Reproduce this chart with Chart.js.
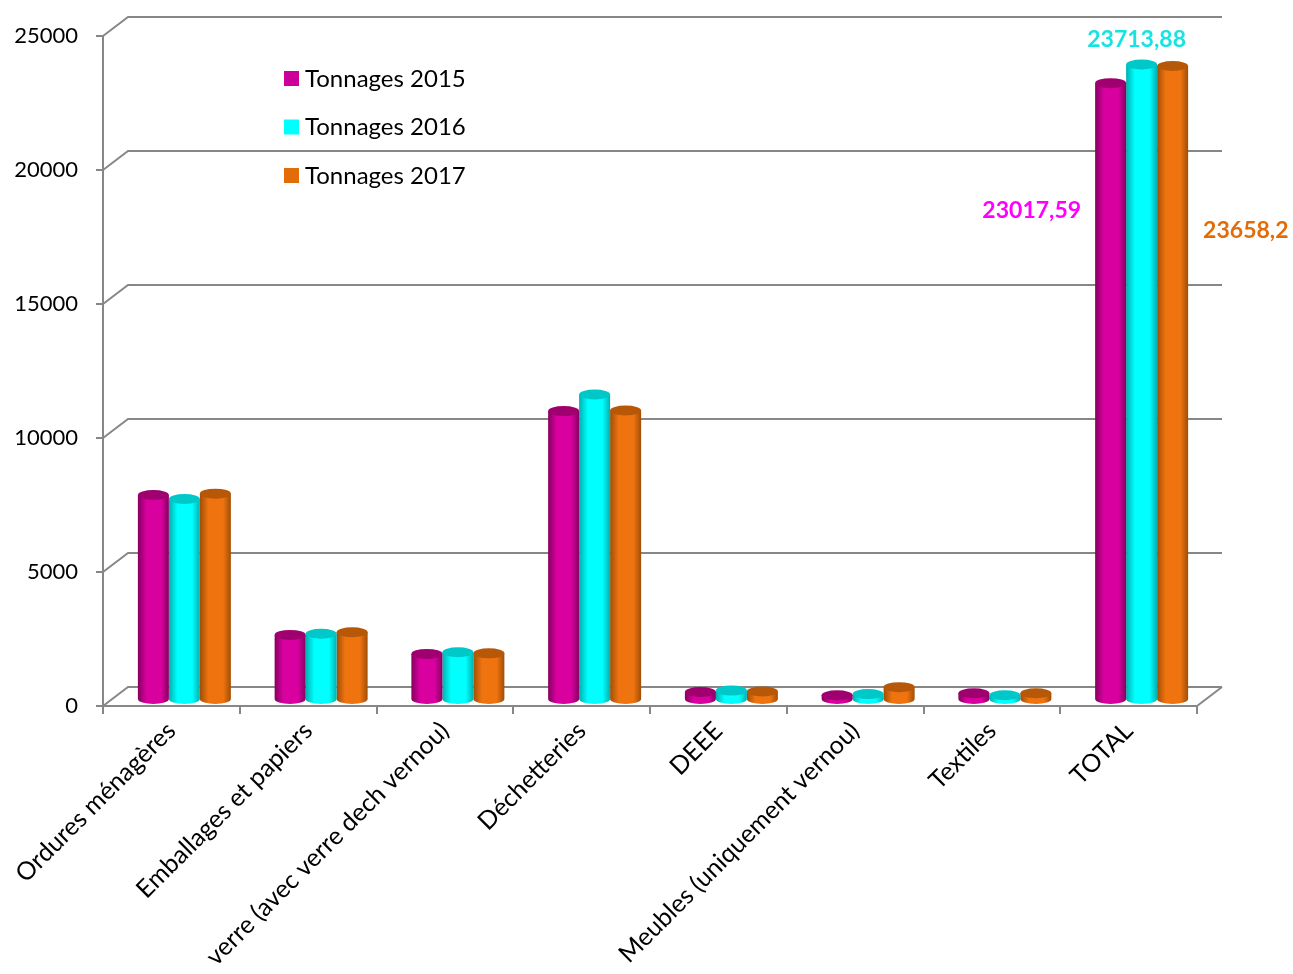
<!DOCTYPE html>
<html>
<head>
<meta charset="utf-8">
<script src="https://cdn.jsdelivr.net/npm/chart.js@4.4.1/dist/chart.umd.min.js"></script>
<style>
  html, body { margin: 0; padding: 0; background: #fff; }
  #wrap { width: 1293px; height: 974px; }
</style>
</head>
<body>
<div id="wrap"><canvas id="tonnageChart" width="1293" height="974"></canvas></div>
<script>
const categories = ['Ordures ménagères', 'Emballages et papiers', 'verre (avec verre dech vernou)', 'Déchetteries', 'DEEE', 'Meubles (uniquement vernou)', 'Textiles', 'TOTAL'];
const tonnages2015 = [7650, 2430, 1720, 10780, 300, 180, 250, 23017.59];
const tonnages2016 = [7500, 2470, 1780, 11400, 350, 220, 180, 23713.88];
const tonnages2017 = [7700, 2530, 1740, 10800, 320, 480, 250, 23658.2];
const seriesLabels = ['Tonnages 2015', 'Tonnages 2016', 'Tonnages 2017'];
const yMax = 25000;
const yStep = 5000;

const CAT_PCT = 0.68;
const WALL_DX = 25, WALL_DY = 19;   // back wall offset (fake 3d)
const BAR_DX = 13, BAR_DY = 6;      // bars sit half way in the depth
const GRID = '#878787';

const colors = [
    { base: '#d8009f', dark: '#86005f', cap: '#a0006f', legend: '#cc0099', text: '#ff00ff' },
    { base: '#00ffff', dark: '#00b0b0', cap: '#00c8c8', legend: '#00ffff', text: '#17e3e3' },
    { base: '#ef7410', dark: '#a04e06', cap: '#b65808', legend: '#e36c09', text: '#e36c09' }
];

function cylinderFill(c) {
    return function (context) {
        const chart = context.chart;
        const x = chart.scales.x;
        if (!x || context.dataIndex === undefined) return c.base;
        const bw = (x.right - x.left) / categories.length * CAT_PCT / 3;
        const left = x.getPixelForValue(context.dataIndex) - bw * 1.5 + context.datasetIndex * bw;
        if (!isFinite(left) || !isFinite(bw) || bw <= 0) return c.base;
        const g = chart.ctx.createLinearGradient(left, 0, left + bw, 0);
        g.addColorStop(0, c.dark);
        g.addColorStop(0.28, c.base);
        g.addColorStop(0.75, c.base);
        g.addColorStop(1, c.dark);
        return g;
    };
}

const fake3d = {
    id: 'fake3d',
    beforeDatasetsDraw(chart) {
        const { ctx, chartArea, scales: { y } } = chart;
        ctx.save();
        ctx.strokeStyle = GRID;
        ctx.lineWidth = 2;
        y.ticks.forEach(t => {
            const py = y.getPixelForValue(t.value);
            ctx.beginPath();
            ctx.moveTo(chartArea.left, py);
            ctx.lineTo(chartArea.left + WALL_DX, py - WALL_DY);
            ctx.lineTo(chartArea.right + WALL_DX, py - WALL_DY);
            ctx.stroke();
        });
        ctx.beginPath();
        ctx.moveTo(chartArea.right, chartArea.bottom);
        ctx.lineTo(chartArea.right + WALL_DX, chartArea.bottom - WALL_DY);
        ctx.stroke();
        ctx.restore();
        // shift the bars back into the depth
        ctx.save();
        ctx.translate(BAR_DX, -BAR_DY);
    },
    afterDatasetsDraw(chart) {
        const ctx = chart.ctx;
        chart.data.datasets.forEach((ds, di) => {
            const c = colors[di];
            chart.getDatasetMeta(di).data.forEach(el => {
                const r = el.width / 2;
                // round bottom
                ctx.beginPath();
                ctx.ellipse(el.x, el.base, r, 5, 0, 0, Math.PI);
                ctx.fillStyle = el.options.backgroundColor;
                ctx.fill();
                // top cap
                ctx.beginPath();
                ctx.ellipse(el.x, el.y, r, 5, 0, 0, Math.PI * 2);
                ctx.fillStyle = c.cap;
                ctx.fill();
            });
        });
        // value labels on the TOTAL group
        const last = categories.length - 1;
        ctx.font = 'bold 23px Lato';
        ctx.textBaseline = 'middle';
        chart.data.datasets.forEach((ds, di) => {
            const el = chart.getDatasetMeta(di).data[last];
            const txt = String(ds.data[last]).replace('.', ',');
            ctx.fillStyle = colors[di].text;
            if (di === 0) {
                ctx.textAlign = 'right';
                ctx.fillText(txt, el.x - el.width / 2 - 14, el.y + 127);
            } else if (di === 1) {
                ctx.textAlign = 'center';
                ctx.fillText(txt, el.x - 5, el.y - 25);
            } else {
                ctx.textAlign = 'left';
                ctx.fillText(txt, el.x + el.width / 2 + 15, el.y + 165);
            }
        });
        ctx.restore();
    },
    afterDraw(chart) {
        const ctx = chart.ctx;
        ctx.save();
        ctx.font = '24px Lato';
        ctx.textAlign = 'left';
        ctx.textBaseline = 'middle';
        seriesLabels.forEach((lab, i) => {
            const top = 71 + i * 48.5;
            ctx.fillStyle = colors[i].legend;
            ctx.fillRect(284, top, 15, 15);
            ctx.fillStyle = '#000';
            ctx.fillText(lab, 305, top + 8);
        });
        ctx.restore();
    }
};

new Chart(
    document.getElementById('tonnageChart'),
    {
        type: 'bar',
        data: {
            labels: categories,
            datasets: [tonnages2015, tonnages2016, tonnages2017].map((vals, i) => ({
                label: seriesLabels[i],
                data: vals,
                backgroundColor: cylinderFill(colors[i]),
                borderWidth: 0,
                categoryPercentage: CAT_PCT,
                barPercentage: 1
            }))
        },
        options: {
            responsive: false,
            devicePixelRatio: 1,
            animation: false,
            events: [],
            layout: { padding: { top: 36, right: 96, left: 0, bottom: 0 } },
            plugins: {
                legend: { display: false },
                tooltip: { enabled: false }
            },
            scales: {
                x: {
                    afterFit: scale => { scale.height = 268; },
                    grid: { drawOnChartArea: false, tickLength: 8, color: GRID, lineWidth: 2 },
                    border: { color: GRID, width: 2 },
                    ticks: {
                        autoSkip: false, minRotation: 45, maxRotation: 45,
                        color: '#000', font: { family: 'Lato', size: 25 }, padding: 2
                    }
                },
                y: {
                    min: 0, max: yMax,
                    afterFit: scale => { scale.width = 103; },
                    grid: { drawOnChartArea: false, tickLength: 7, color: GRID, lineWidth: 2 },
                    border: { color: GRID, width: 2 },
                    ticks: {
                        stepSize: yStep, padding: 18,
                        color: '#000', font: { family: 'Lato', size: 22 },
                        callback: v => String(v)
                    }
                }
            }
        },
        plugins: [fake3d]
    });
</script>
</body>
</html>
